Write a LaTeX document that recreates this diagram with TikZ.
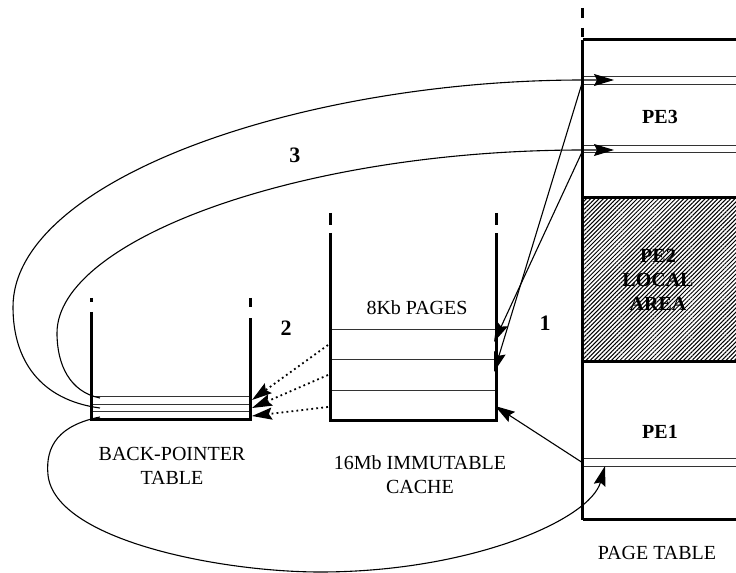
\documentclass[tikz,border=0pt]{standalone}
\usepackage{fontspec}
\setmainfont{Liberation Serif}
\usetikzlibrary{arrows.meta,patterns.meta}
\begin{document}
\begin{tikzpicture}[x=0.5pt,y=-0.5pt,
  thickln/.style={line width=1.5pt},
  thinln/.style={line width=0.5pt,black!80},
  arr/.style={line width=0.55pt,-{Stealth[length=10pt,width=6pt,inset=1.5pt]}},
  dotarr/.style={line width=0.9pt,dash pattern=on 0.9pt off 1.6pt,-{Stealth[length=10pt,width=6pt,inset=1.5pt]}},
  lbl/.style={font=\fontsize{10}{12}\selectfont,align=center,inner sep=0pt},
  blbl/.style={font=\fontsize{10}{12}\selectfont\bfseries,align=center,inner sep=0pt},
  num/.style={font=\fontsize{11}{13}\selectfont\bfseries,inner sep=0pt}]
\useasboundingbox (0,0) rectangle (736,573);
\clip (0,0) rectangle (736,573);
% page table
\fill[pattern={Lines[angle=45,distance=1.5pt,line width=0.5pt]}] (583,198) rectangle (745,362);
\draw[thinln] (583,77)--(745,77) (583,85)--(745,85) (583,146)--(745,146) (583,153)--(745,153)
  (583,459)--(745,459) (583,467)--(745,467);
\draw[thickln] (583,40) -- (745,40) (583,198) -- (745,198) (583,362) -- (745,362) (583,520) -- (745,520);
\draw[thickln] (583,8) -- (583,18) (583,28) -- (583,37) (583,40) -- (583,520);
% cache
\draw[thinln] (331,330)--(497,330) (331,360)--(497,360) (331,391)--(497,391);
\draw[thickln] (331,213) -- (331,225) (497,213) -- (497,225);
\draw[thickln] (331,233) -- (331,421) -- (497,421) -- (497,233);
% back-pointer table
\draw[thinln] (92,397)--(251,397) (92,405)--(251,405) (92,412)--(251,412);
\draw[thickln] (92,298) -- (92,302) (251,298) -- (251,307);
\draw[thickln] (92,312) -- (92,420) -- (251,420) -- (251,318);
% coordinates
\coordinate (pe3a) at (583,80);
\coordinate (pe3aT) at (614,80);
\coordinate (pe3b) at (583,150);
\coordinate (pe3bT) at (614,150);
\coordinate (pe1) at (583,463);
\coordinate (pe1T) at (605,466);
\coordinate (c1) at (494,342);
\coordinate (c2) at (494,372);
\coordinate (cb) at (495,406);
\coordinate (bp1) at (100,398);
\coordinate (bp2) at (100,408);
\coordinate (bp3) at (100,417);
\coordinate (cs1) at (328,345);
\coordinate (cs2) at (328,375);
\coordinate (cs3) at (328,407);
\coordinate (bt1) at (252,400);
\coordinate (bt2) at (252,408);
\coordinate (bt3) at (252,416);
% connectors
\draw[arr] (bp2) .. controls (40,400) and (13,360) .. (13,307) .. controls (13,180) and (300,80) .. (pe3a) -- (pe3aT);
\draw[arr] (bp1) .. controls (70,392) and (57,365) .. (57,333) .. controls (57,240) and (300,150) .. (pe3b) -- (pe3bT);
\draw[arr] (bp3) .. controls (60,425) and (45,445) .. (48,475) .. controls (55,540) and (220,572) .. (320,572) .. controls (470,572) and (590,520) .. (pe1T);
\draw[arr] (pe3a) -- (c2);
\draw[arr] (pe3b) -- (c1);
\draw[arr] (pe1) -- (cb);
\draw[dotarr] (cs1) -- (bt1);
\draw[dotarr] (cs2) -- (bt2);
\draw[dotarr] (cs3) -- (bt3);
% labels
\node[blbl] (lpe3) at (660,117) {PE3};
\node[blbl] (lpe2) at (658,280) {PE2\\LOCAL\\AREA};
\node[blbl] (lpe1) at (660,432) {PE1};
\node[lbl] (lpt) at (657,553) {PAGE TABLE};
\node[lbl] (lpages) at (417,308) {8Kb PAGES};
\node[lbl] (lcache) at (420,475) {16Mb IMMUTABLE\\CACHE};
\node[lbl] (lbpt) at (172,466) {BACK-POINTER\\TABLE};
\node[num] (n1) at (545,323) {1};
\node[num] (n2) at (286,328) {2};
\node[num] (n3) at (295,155) {3};
\end{tikzpicture}
\end{document}
